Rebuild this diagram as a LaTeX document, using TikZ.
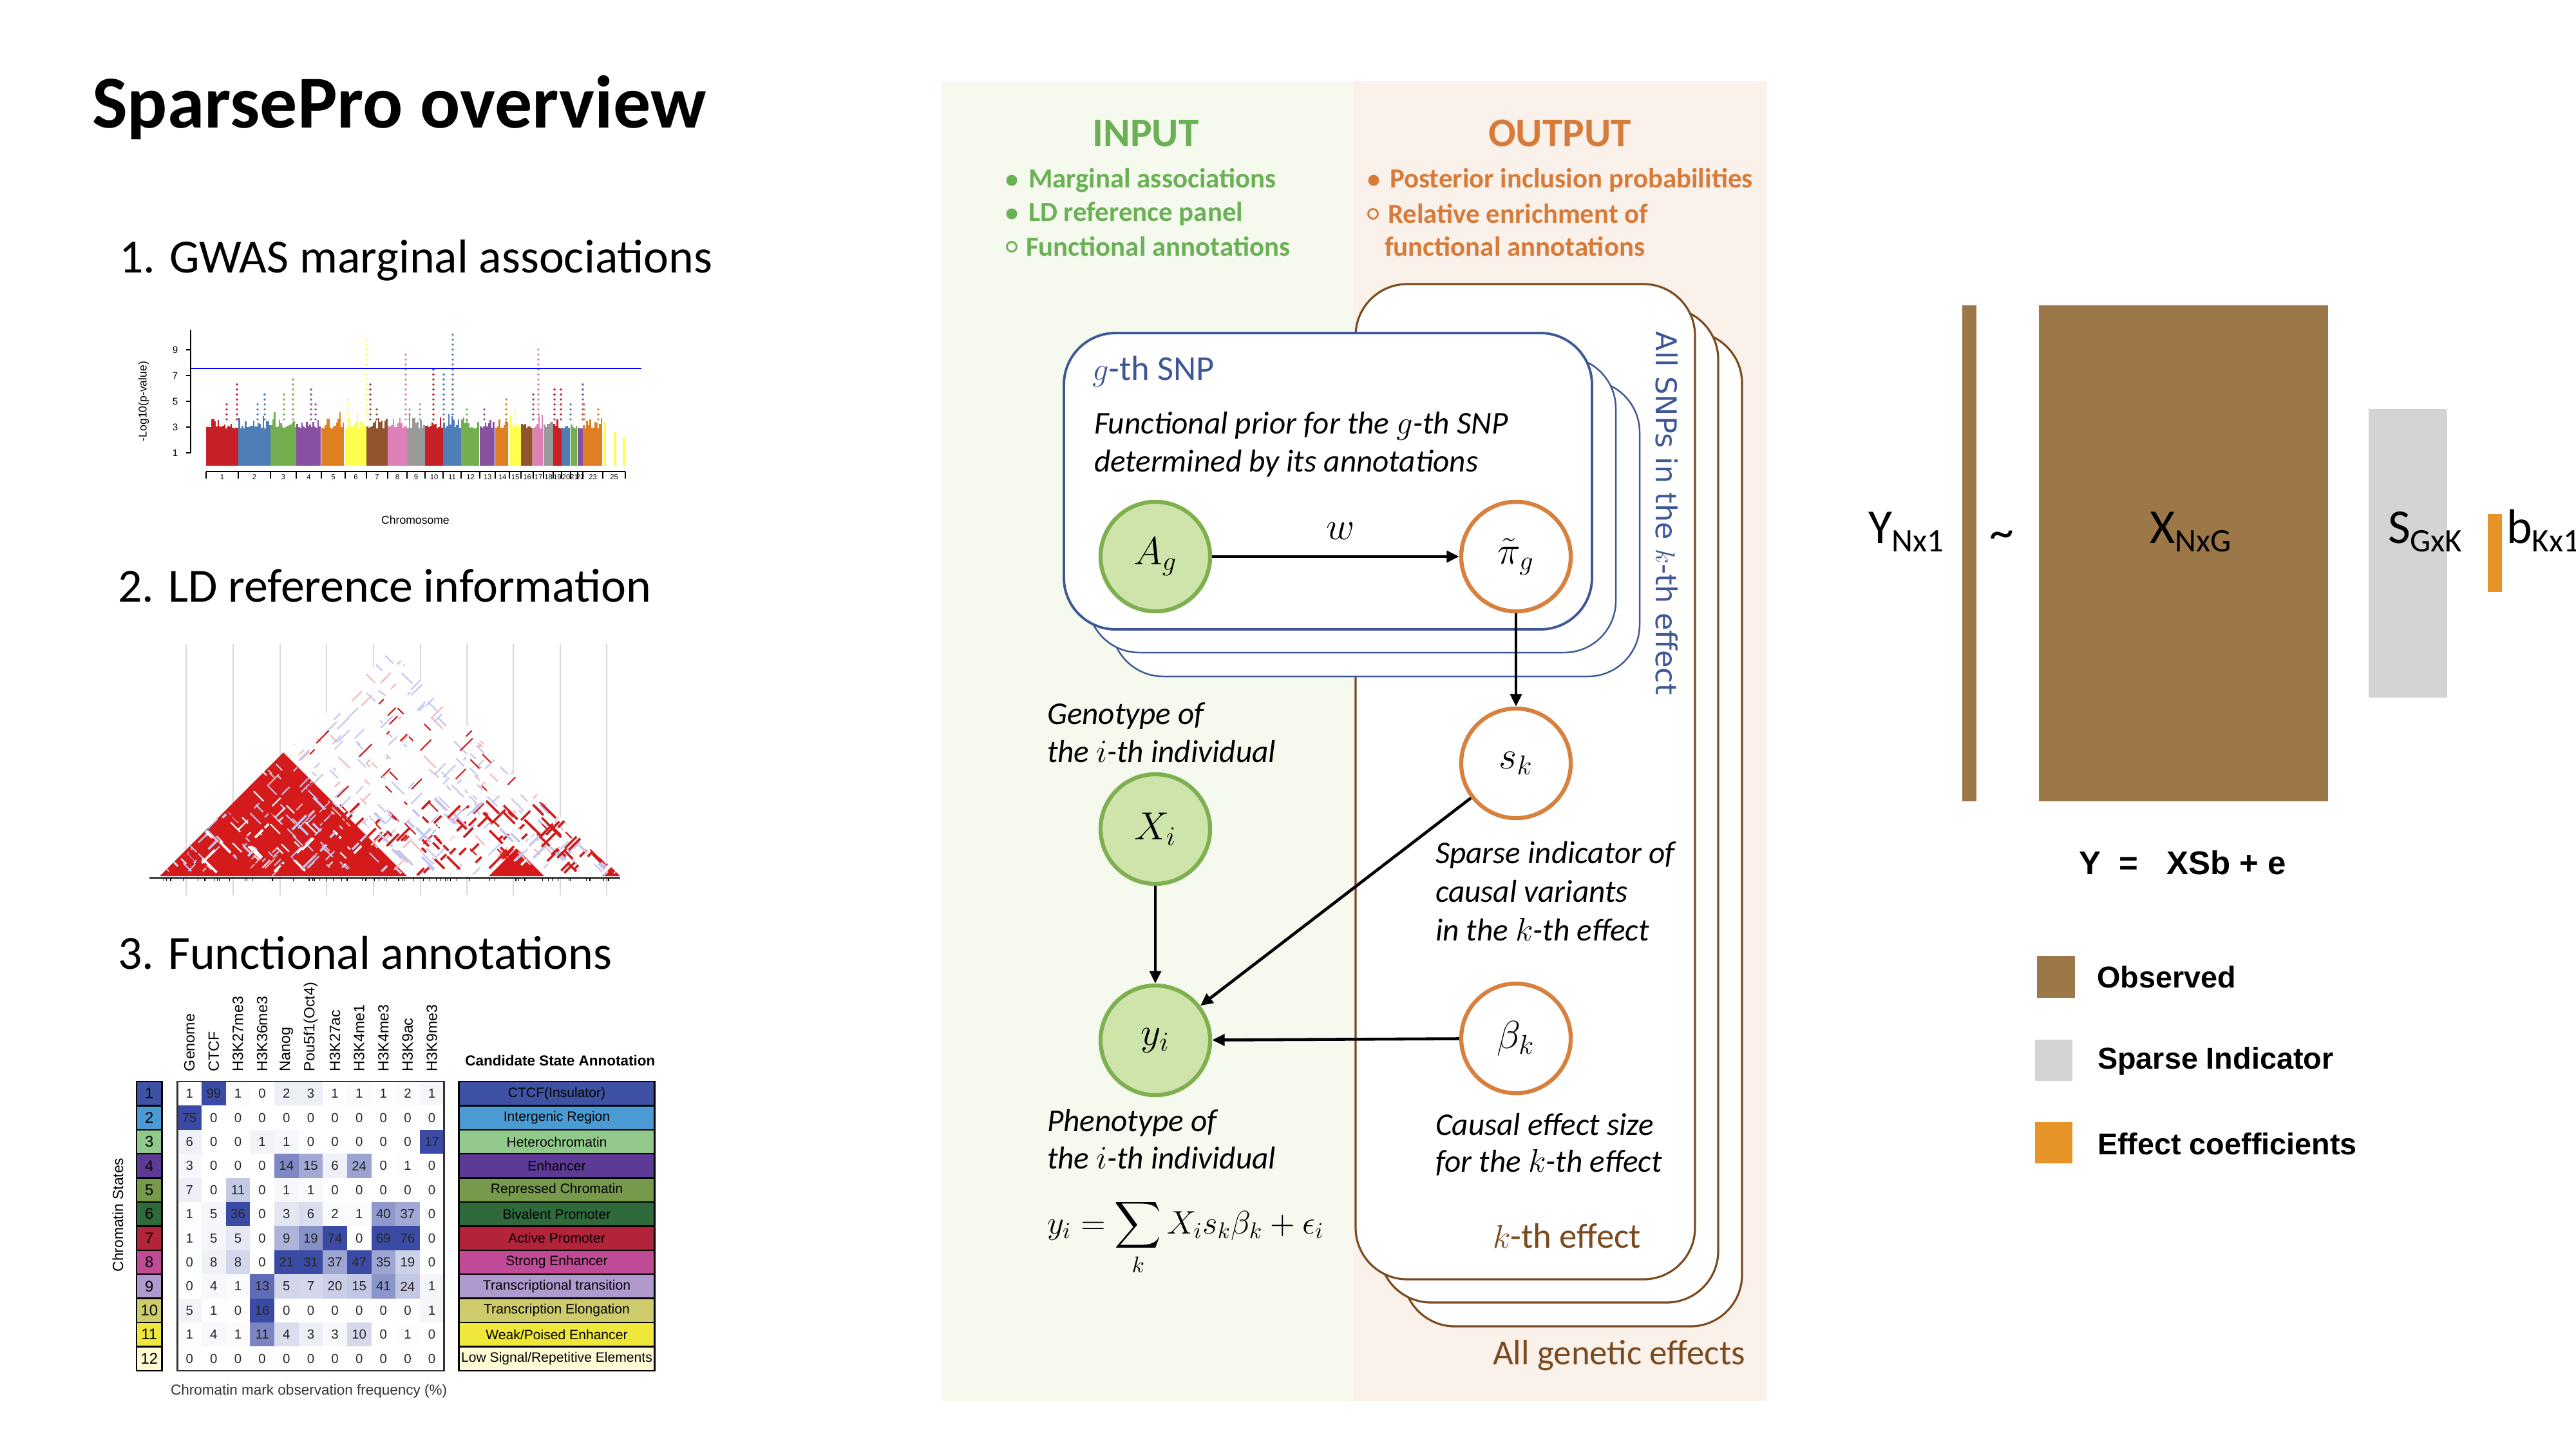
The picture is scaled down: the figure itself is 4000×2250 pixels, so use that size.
\documentclass[tikz,border=0pt]{standalone}
\usepackage{amsmath}
\usepackage{fontspec}
\setmainfont{Carlito}
\newfontfamily\arialf{Liberation Sans}
\newfontfamily\dejavuf{DejaVu Sans}
\usetikzlibrary{arrows.meta}
\newcommand{\setfs}[1]{\fontsize{#1}{#1}\selectfont}
\definecolor{ingreen}{HTML}{6AB155}
\definecolor{outorange}{HTML}{D77B3A}
\definecolor{bggreen}{HTML}{F5F9EE}
\definecolor{bgorange}{HTML}{FAF1EA}
\definecolor{platebrown}{HTML}{7B4A1F}
\definecolor{plateblue}{HTML}{3E5796}
\definecolor{nodegreenfill}{HTML}{CFE4AB}
\definecolor{nodegreen}{HTML}{7FB04F}
\definecolor{nodeorange}{HTML}{D8803D}
\definecolor{obsbrown}{HTML}{9C7747}
\definecolor{sparsegray}{HTML}{D4D4D4}
\definecolor{effectorange}{HTML}{E69327}
\definecolor{mred}{HTML}{C62127}
\definecolor{mblue}{HTML}{4F7DB8}
\definecolor{mgreen}{HTML}{72AF4F}
\definecolor{mpurple}{HTML}{8750A0}
\definecolor{morange}{HTML}{E07F22}
\definecolor{myellow}{HTML}{FFFF4D}
\definecolor{mbrown}{HTML}{91542E}
\definecolor{mpink}{HTML}{DE80B8}
\definecolor{mgray}{HTML}{999999}
\definecolor{ldred}{HTML}{D41A1A}
\definecolor{ldblue}{HTML}{C3C6F0}
\definecolor{ldpink}{HTML}{F2B8B8}
\definecolor{cellblue}{HTML}{3B4BA5}
\definecolor{st1}{HTML}{3F51A3}
\definecolor{st2}{HTML}{4A9AD3}
\definecolor{st3}{HTML}{90C98A}
\definecolor{st4}{HTML}{5D3A96}
\definecolor{st5}{HTML}{77994B}
\definecolor{st6}{HTML}{2E6A3B}
\definecolor{st7}{HTML}{B3233A}
\definecolor{st8}{HTML}{C04A96}
\definecolor{st9}{HTML}{AF9ACD}
\definecolor{st10}{HTML}{CDCB6C}
\definecolor{st11}{HTML}{EFE83B}
\definecolor{st12}{HTML}{FFFBD5}
\def\colmaxarr{{75,99,36,16,21,31,74,47,69,76,17}}
\begin{document}
\begin{tikzpicture}[x=0.01cm,y=-0.01cm,
  txt/.style={inner sep=0pt, outer sep=0pt},
  obsnode/.style={circle, draw=nodegreen, fill=nodegreenfill, line width=1.8pt, minimum size=1.7cm, inner sep=0pt},
  latnode/.style={circle, draw=nodeorange, fill=white, line width=1.8pt, minimum size=1.7cm, inner sep=0pt},
  arr/.style={-{Triangle[length=5.5pt,width=5pt]}, line width=1.3pt},
  brownplate/.style={draw=platebrown, fill=white, line width=0.9pt, rounded corners=0.8cm},
  blueplate/.style={draw=plateblue, fill=white, line width=0.7pt, rounded corners=0.8cm},
  desc/.style={txt, anchor=west, font=\setfs{14}\itshape},
  cellnum/.style={inner sep=0pt, outer sep=0pt, minimum width=0.3764cm, minimum height=0.374cm},
  legtxt/.style={txt, anchor=west, font=\arialf\bfseries\setfs{13.3}},
  mlab/.style={txt, anchor=base west, font=\setfs{21.5}}
]
\useasboundingbox (0,0) rectangle (4000,2250);
\fill[white] (0,0) rectangle (4000,2250);

% ---------------- left column -----------------
\node[txt, anchor=base west] (title) at (143,198) {\setfs{33}\bfseries SparsePro overview};
\node[txt, anchor=base west] (h1) at (185,423) {\setfs{21}1. GWAS marginal associations};
\node[txt, anchor=base west] (h2) at (183,934) {\setfs{21}2. LD reference information};
\node[txt, anchor=base west] (h3) at (183,1504) {\setfs{21}3. Functional annotations};

% Manhattan plot
\pgfmathsetseed{42}
\foreach \xa/\xb/\col in {320/370/mred,370/420/mblue,420/460/mgreen,460/499/mpurple,499/536/morange,536/569/myellow,569/602/mbrown,602/632/mpink,632/660/mgray,660/688/mred,688/716/mblue,716/745/mgreen,745/769/mpurple,769/791/morange,791/809/myellow,809/828/mbrown,828/844/mpink,844/859/mgray,859/872/mred,872/886/mblue,886/897/mgreen,897/905/mpurple,905/936/morange}{
  \pgfmathtruncatemacro{\nb}{(\xb-\xa)/2.5}
  \foreach \i in {1,...,\nb}{
    \pgfmathsetmacro{\hh}{2.9+1.3*rnd*rnd}
    \fill[\col] ({\xa+2.5*(\i-1)},723) rectangle ({\xa+2.5*\i},{723-20*\hh});
  }
}
\foreach \px/\pv/\col in {368/6.5/mred,352/4.8/mred,411/5.8/mblue,400/5.0/mblue,455/6.8/mgreen,441/5.7/mgreen,483/6.3/mpurple,490/5.0/mpurple,540/5.3/myellow,569/9.9/myellow,575/6.6/mbrown,585/4.7/mbrown,630/9.0/mpink,636/4.5/mgray,652/4.8/mgray,673/7.6/mred,689/7.4/mblue,703/10.2/mblue,725/4.4/mgreen,752/4.4/mpurple,786/5.3/morange,800/4.7/myellow,828/5.6/mbrown,836/9.2/mpink,861/6.0/mred,871/6.0/mred,886/5.0/mblue,905/6.4/mpurple,907/5.0/morange,929/4.4/morange}{
  \draw[\col, line width=1.1pt, line cap=round, dash pattern=on 0pt off 2.2pt] (\px,{723-20*3.6}) -- (\px,{723-20*\pv});
}
\draw[myellow, line width=1.2pt] (939,723) -- (939,655);
\draw[myellow, line width=1.2pt] (955,723) -- (955,671);
\draw[myellow, line width=1.2pt] (969,723) -- (969,679);
\draw[blue, line width=0.8pt] (296,572) -- (996,572);
\draw[line width=0.5pt] (296,512) -- (296,703);
\foreach \v in {1,3,5,7,9}{
  \draw[line width=0.5pt] (296,{723-20*\v}) -- (289,{723-20*\v});
  \node[txt, font=\arialf\setfs{4.3}] (ytick\v) at (272,{723-20*\v}) {\v};
}
\node[txt, rotate=90, font=\arialf\setfs{5}] (ylabel) at (223,623) {-Log10(p-value)};
\draw[line width=0.4pt] (320,732) -- (971,732);
\foreach \xa/\xb/\lab in {320/370/1,370/420/2,420/460/3,460/499/4,499/536/5,536/569/6,569/602/7,602/632/8,632/660/9,660/688/10,688/716/11,716/745/12,745/769/13,769/791/14,791/809/15,809/828/16,828/844/17,844/859/18,859/872/19,872/886/20,886/897/21,897/905/22,905/936/23,936/971/25}{
  \draw[line width=0.4pt] (\xa,732) -- (\xa,743);
  \node[txt, font=\arialf\setfs{3.2}] (chr\lab) at ({(\xa+\xb)/2},741) {\lab};
}
\draw[line width=0.4pt] (971,732) -- (971,743);
\node[txt, font=\arialf\setfs{5}] (chromlab) at (645,807) {Chromosome};

% LD heatmap
\foreach \lx in {289,362,435,507,580,653,725,797,870,942}{
  \draw[gray!30, line width=0.4pt] (\lx,1000) -- (\lx,1390);
}
\fill[white] (248,1360) -- (606,1010) -- (963,1360) -- cycle;
\fill[ldred] (248,1360) -- (440,1168) -- (632,1360) -- cycle;
\fill[ldred] (759,1360) -- (802,1317) -- (845,1360) -- cycle;
\fill[ldred] (935,1360) -- (949,1346) -- (963,1360) -- cycle;
\begin{scope}
\clip (248,1360) -- (606,1010) -- (963,1360) -- cycle;
\pgfmathsetseed{123}
\foreach \k in {1,...,280}{
  \pgfmathsetmacro{\ua}{rnd}\pgfmathsetmacro{\va}{rnd}
  \pgfmathsetmacro{\uu}{(\ua+\va>1) ? 1-\ua : \ua}
  \pgfmathsetmacro{\vv}{(\ua+\va>1) ? 1-\va : \va}
  \pgfmathsetmacro{\px}{248+358*\uu+715*\vv}
  \pgfmathsetmacro{\py}{1360-350*\uu}
  \pgfmathsetmacro{\LL}{4+16*rnd}
  \pgfmathsetmacro{\dd}{rnd<0.5 ? 1 : -1}
  \pgfmathsetmacro{\cc}{rnd}
  \ifdim\cc pt<0.22pt \def\lc{ldred}\else\ifdim\cc pt<0.7pt \def\lc{ldblue}\else\def\lc{ldpink}\fi\fi
  \draw[\lc, line width=0.6pt] (\px,\py) -- ++({\LL*\dd},{-\LL});
}
\foreach \k in {1,...,240}{
  \pgfmathsetmacro{\uu}{0.3*rnd}
  \pgfmathsetmacro{\vv}{(1-\uu)*rnd}
  \pgfmathsetmacro{\px}{248+358*\uu+715*\vv}
  \pgfmathsetmacro{\py}{1360-350*\uu}
  \pgfmathsetmacro{\LL}{5+18*rnd}
  \pgfmathsetmacro{\dd}{rnd<0.5 ? 1 : -1}
  \pgfmathsetmacro{\cc}{rnd}
  \ifdim\cc pt<0.6pt \def\lc{ldred}\else\ifdim\cc pt<0.8pt \def\lc{ldblue}\else\def\lc{white}\fi\fi
  \draw[\lc, line width=1pt] (\px,\py) -- ++({\LL*\dd},{-\LL});
}
\end{scope}
\begin{scope}
\clip (248,1360) -- (440,1168) -- (632,1360) -- cycle;
\foreach \k in {1,...,90}{
  \pgfmathsetmacro{\px}{260+360*rnd}
  \pgfmathsetmacro{\py}{1180+180*rnd}
  \pgfmathsetmacro{\LL}{4+14*rnd}
  \pgfmathsetmacro{\dd}{rnd<0.5 ? 1 : -1}
  \pgfmathsetmacro{\cc}{rnd}
  \ifdim\cc pt<0.5pt \def\lc{white}\else\def\lc{ldblue}\fi
  \draw[\lc, line width=0.6pt] (\px,\py) -- ++({\LL*\dd},{-\LL});
}
\end{scope}
\draw[line width=0.4pt] (232,1363) -- (963,1363);
\foreach \k in {1,...,70}{
  \pgfmathsetmacro{\tx}{250+712*rnd}
  \draw[line width=0.3pt] (\tx,1363) -- (\tx,1368);
}

% Chromatin states table
\foreach \r/\col in {1/st1,2/st2,3/st3,4/st4,5/st5,6/st6,7/st7,8/st8,9/st9,10/st10,11/st11,12/st12}{
  \node[draw=black, line width=0.7pt, fill=\col, minimum width=0.395cm, minimum height=0.374cm, inner sep=0pt, font=\arialf\setfs{6.8}] (state\r) at (231.8,{1679+37.4*(\r-0.5)}) {\r};
}
\foreach \r/\vals in {1/{1,99,1,0,2,3,1,1,1,2,1},2/{75,0,0,0,0,0,0,0,0,0,0},3/{6,0,0,1,1,0,0,0,0,0,17},4/{3,0,0,0,14,15,6,24,0,1,0},5/{7,0,11,0,1,1,0,0,0,0,0},6/{1,5,36,0,3,6,2,1,40,37,0},7/{1,5,5,0,9,19,74,0,69,76,0},8/{0,8,8,0,21,31,37,47,35,19,0},9/{0,4,1,13,5,7,20,15,41,24,1},10/{5,1,0,16,0,0,0,0,0,0,1},11/{1,4,1,11,4,3,3,10,0,1,0},12/{0,0,0,0,0,0,0,0,0,0,0}}{
  \foreach \v [count=\c] in \vals {
    \pgfmathsetmacro{\mx}{\colmaxarr[\c-1]}
    \pgfmathtruncatemacro{\pct}{100*\v/\mx}
    \pgfmathsetmacro{\cx}{275.4+37.64*(\c-0.5)}
    \pgfmathsetmacro{\cy}{1679+37.4*(\r-0.5)}
    \node[cellnum, fill=cellblue!\pct!white, font=\arialf\setfs{5.8}, text=black!85] (cell-\r-\c) at (\cx,\cy) {\v};
  }
}
\draw[line width=0.8pt, black!80] (275.4,1679) rectangle (689.4,2128);
\foreach \h [count=\c] in {Genome,CTCF,H3K27me3,H3K36me3,Nanog,Pou5f1(Oct4),H3K27ac,H3K4me1,H3K4me3,H3K9ac,H3K9me3}{
  \node[txt, rotate=90, anchor=west, font=\arialf\setfs{6.6}] (head\c) at ({275.4+37.64*(\c-0.5)},1663) {\h};
}
\foreach \r/\col/\nm in {1/st1/CTCF(Insulator),2/st2/Intergenic Region,3/st3/Heterochromatin,4/st4/Enhancer,5/st5/Repressed Chromatin,6/st6/Bivalent Promoter,7/st7/Active Promoter,8/st8/Strong Enhancer,9/st9/Transcriptional transition,10/st10/Transcription Elongation,11/st11/{Weak/Poised Enhancer},12/st12/{Low Signal/Repetitive Elements}}{
  \node[draw=black, line width=0.7pt, fill=\col, minimum width=3.036cm, minimum height=0.374cm, inner sep=0pt, font=\arialf\setfs{6}] (annot\r) at (864.5,{1679+37.4*(\r-0.5)}) {\nm};
}
\node[txt, font=\arialf\bfseries\setfs{6.4}] (candlab) at (869.8,1646) {Candidate State Annotation};
\node[txt, font=\arialf\setfs{6.4}, text=black!80] (freqlab) at (479.7,2160) {Chromatin mark observation frequency (\%)};
\node[txt, rotate=90, font=\arialf\setfs{6.5}] (stlab) at (183,1886) {Chromatin States};

% ---------------- middle panel -----------------
\fill[bggreen] (1462,126) rectangle (2102,2175);
\fill[bgorange] (2102,126) rectangle (2744,2175);
\node[txt, text=ingreen, font=\setfs{18}\bfseries] (input) at (1779,207) {INPUT};
\node[txt, text=outorange, font=\setfs{18}\bfseries] (output) at (2422,207) {OUTPUT};
\fill[ingreen] (1571,280) circle (0.085cm);
\fill[ingreen] (1571,332) circle (0.085cm);
\draw[ingreen, line width=0.8pt] (1571,383) circle (0.075cm);
\node[txt, anchor=west, text=ingreen, font=\setfs{12.2}\bfseries] (in1) at (1597,280) {Marginal associations};
\node[txt, anchor=west, text=ingreen, font=\setfs{12.2}\bfseries] (in2) at (1597,332) {LD reference panel};
\node[txt, anchor=west, text=ingreen, font=\setfs{12.2}\bfseries] (in3) at (1593,383) {Functional annotations};
\fill[outorange] (2133,280) circle (0.085cm);
\draw[outorange, line width=0.8pt] (2132,332) circle (0.075cm);
\node[txt, anchor=west, text=outorange, font=\setfs{12.2}\bfseries] (out1) at (2158,280) {Posterior inclusion probabilities};
\node[txt, anchor=west, text=outorange, font=\setfs{12.2}\bfseries] (out2) at (2155,332) {Relative enrichment of};
\node[txt, anchor=west, text=outorange, font=\setfs{12.2}\bfseries] (out3) at (2150,383) {functional annotations};

% plates
\draw[brownplate] (2179,515) rectangle (2705,2059);
\draw[brownplate] (2142,478) rectangle (2668,2022);
\draw[brownplate] (2105,441) rectangle (2632,1986);
\draw[blueplate] (1726,591) rectangle (2546,1050);
\draw[blueplate] (1689,554) rectangle (2509,1013);
\draw[blueplate, line width=1.1pt] (1652,517) rectangle (2472,977);

\node[txt, anchor=west, text=plateblue, font=\setfs{15.5}] (gsnp) at (1696,576) {$g$-th SNP};
\node[desc] (fp1) at (1699,661) {Functional prior for the $g$-th SNP};
\node[desc] (fp2) at (1699,719) {determined by its annotations};
\node[txt, rotate=-90, text=plateblue, font=\dejavuf\setfs{12.7}] (allsnps) at (2588,797) {All SNPs in the $k$-th effect};

% graph nodes
\node[obsnode, font=\setfs{17.28}] (A) at (1794,864) {$A_g$};
\node[latnode, font=\setfs{17.28}] (pi) at (2354,864) {$\tilde{\pi}_g$};
\node[latnode, font=\setfs{17.28}] (s) at (2354,1185) {$s_k$};
\node[obsnode, font=\setfs{17.28}] (X) at (1794,1287) {$X_i$};
\node[obsnode, font=\setfs{17.28}] (y) at (1794,1615) {$y_i$};
\node[latnode, font=\setfs{17.28}] (b) at (2354,1612) {$\beta_k$};
\draw[arr] (A) -- (pi);
\node[txt, font=\setfs{17.28}] (w) at (2082,824) {$w$};
\draw[arr] (pi) -- (s);
\draw[arr] (X) -- (y);
\draw[arr] (s) -- (y);
\draw[arr] (b) -- (y);

\node[desc] (geno1) at (1626,1112) {Genotype of};
\node[desc] (geno2) at (1626,1167) {the $i$-th individual};
\node[desc] (sp1) at (2229,1327) {Sparse indicator of};
\node[desc] (sp2) at (2229,1384) {causal variants};
\node[desc] (sp3) at (2229,1443) {in the $k$-th effect};
\node[desc] (ph1) at (1626,1743) {Phenotype of};
\node[desc] (ph2) at (1626,1798) {the $i$-th individual};
\node[desc] (ce1) at (2229,1746) {Causal effect size};
\node[desc] (ce2) at (2229,1805) {for the $k$-th effect};
\node[txt, anchor=base west, font=\setfs{14.4}] (eq) at (1626,1915) {$\displaystyle y_i=\sum_k X_i s_k\beta_k+\epsilon_i$};
\node[txt, anchor=west, text=platebrown, font=\setfs{15.6}] (keff) at (2318,1919) {$k$-th effect};
\node[txt, anchor=west, text=platebrown, font=\setfs{15.6}] (alleff) at (2318,2104) {All genetic effects};

% ---------------- right panel -----------------
\fill[obsbrown] (3047,474) rectangle (3069,1244);
\fill[obsbrown] (3166,474) rectangle (3615,1244);
\fill[sparsegray] (3678,635) rectangle (3800,1083);
\fill[effectorange] (3863,798) rectangle (3885,919);
\node[mlab] (ylab) at (2901,843) {Y\raisebox{-3.8pt}{\setfs{14.5}Nx1}};
\node[txt, font=\setfs{21.5}] (tilde) at (3108,838) {\char`\~};
\node[mlab] (xlab) at (3338,843) {X\raisebox{-3.8pt}{\setfs{14.5}NxG}};
\node[mlab] (slab) at (3708,843) {S\raisebox{-3.8pt}{\setfs{14.5}GxK}};
\node[mlab] (blab) at (3892,843) {b\raisebox{-3.8pt}{\setfs{14.5}Kx1}};
\node[txt, anchor=base west, font=\arialf\bfseries\setfs{14.5}] (eqY) at (3228,1357) {Y};
\node[txt, anchor=base west, font=\arialf\bfseries\setfs{14.5}] (eqeq) at (3290,1357) {=};
\node[txt, anchor=base west, font=\arialf\bfseries\setfs{14.5}] (eqX) at (3364,1357) {XSb + e};
\fill[obsbrown] (3163,1484) rectangle (3222,1549);
\node[legtxt] (leg1) at (3256,1517) {Observed};
\fill[sparsegray] (3160,1614) rectangle (3218,1678);
\node[legtxt] (leg2) at (3257,1647) {Sparse Indicator};
\fill[effectorange] (3160,1742) rectangle (3218,1806);
\node[legtxt] (leg3) at (3257,1776) {Effect coefficients};
\end{tikzpicture}
\end{document}
